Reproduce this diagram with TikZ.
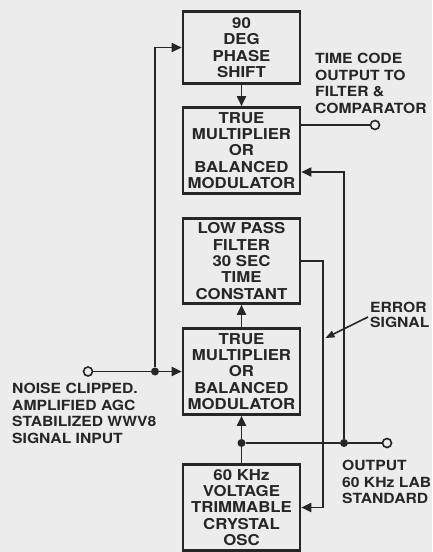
\documentclass[tikz,border=0pt]{standalone}
\usepackage{fontspec}
\setmainfont{TeX Gyre Heros}[FakeStretch=1.12]
\usetikzlibrary{arrows.meta,calc}
\definecolor{ink}{RGB}{38,38,38}
\definecolor{paper}{RGB}{236,236,236}
\begin{document}
\begin{tikzpicture}[x=1pt,y=-1pt,
  blockbox/.style={draw=ink,line width=2.6pt,minimum width=117pt,inner sep=0pt,
    align=center,text=ink,font=\bfseries\fontsize{15}{16.4}\selectfont},
  lbl/.style={inner sep=0pt,anchor=north west,align=left,text=ink,
    font=\bfseries\fontsize{14}{16.5}\selectfont},
  wire/.style={draw=ink,line width=1.8pt},
  arr/.style={wire,-{Triangle[length=10pt,width=9pt]}},
  dotnode/.style={circle,fill=ink,inner sep=0pt,minimum size=8pt},
  term/.style={circle,draw=ink,line width=1.6pt,fill=paper,inner sep=0pt,minimum size=9pt}]
\fill[paper] (0,0) rectangle (432,552);
\useasboundingbox (0,0) rectangle (432,552);

\node[blockbox,minimum height=72pt] (b1) at (241.5,47.5) {90\\DEG\\PHASE\\SHIFT};
\node[blockbox,minimum height=86pt] (b2) at (241.5,150.5) {TRUE\\MULTIPLIER\\OR\\BALANCED\\MODULATOR};
\node[blockbox,minimum height=85pt] (b3) at (241.5,261) {LOW PASS\\FILTER\\30 SEC\\TIME\\CONSTANT};
\node[blockbox,minimum height=86pt] (b4) at (241.5,371.5) {TRUE\\MULTIPLIER\\OR\\BALANCED\\MODULATOR};
\node[blockbox,minimum height=86pt] (b5) at (241.5,507.5) {60 KHz\\VOLTAGE\\TRIMMABLE\\CRYSTAL\\OSC};

% input and left feed
\node[term] (in) at (88,371.5) {};
\node[dotnode] (j1) at (155,371.5) {};
\coordinate (c1) at (155,47.5);
\draw[wire] (in) -- (j1);
\draw[arr] (j1) -- (b4.west);
\draw[arr] (j1) -- (c1) -- (b1.west);

% phase shift to multiplier
\draw[arr] (b1.south) -- (b2.north);

% time code output
\coordinate (o1) at (b2.east |- 0,125);
\node[term] (tout) at (375,125) {};
\draw[wire] (o1) -- (tout);

% 60 kHz distribution
\node[dotnode] (j2) at (241.5,443) {};
\node[dotnode] (j3) at (344,443) {};
\node[term] (sout) at (387,443) {};
\draw[wire] (b5.north) -- (j2);
\draw[arr] (j2) -- (b4.south);
\draw[wire] (j2) -- (j3) -- (sout);
\coordinate (c2) at (344,172);
\draw[arr] (j3) -- (c2) -- (c2 -| b2.east);

% multiplier to filter
\draw[arr] (b4.north) -- (b3.south);

% error signal loop
\coordinate (c3) at (323,261);
\coordinate (c4) at (323,507.5);
\draw[arr] (b3.east) -- (c3) -- (c4) -- (b5.east);

% labels
\node[lbl] (tl) at (315,53) {TIME CODE\\OUTPUT TO\\FILTER \&\\COMPARATOR};
\node[lbl] (il) at (12,383) {NOISE CLIPPED.\\AMPLIFIED AGC\\STABILIZED WWV8\\SIGNAL INPUT};
\node[lbl] (ol) at (342,460) {OUTPUT\\60 KHz LAB\\STANDARD};
\node[lbl,font=\bfseries\fontsize{14}{15}\selectfont] (el) at (370,302) {ERROR\\SIGNAL};
\coordinate (ea) at (368,317);
\coordinate (eb) at (325.5,338);
\draw[wire,line width=1.6pt,-{Triangle[length=9pt,width=7pt]}] (ea) -- (eb);
\end{tikzpicture}
\end{document}
